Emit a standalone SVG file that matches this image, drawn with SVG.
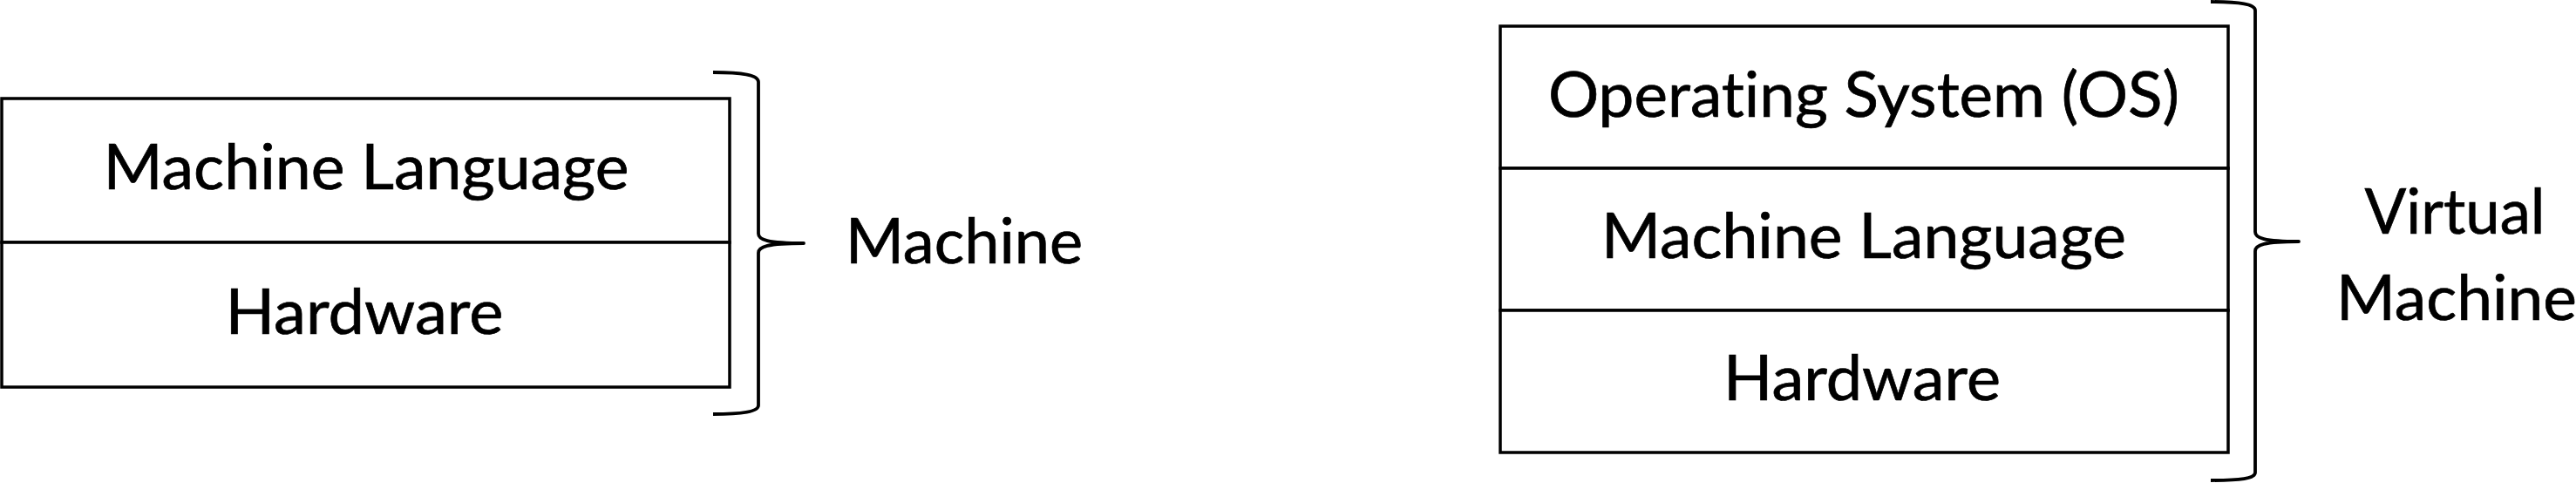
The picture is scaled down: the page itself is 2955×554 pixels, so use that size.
<svg xmlns="http://www.w3.org/2000/svg" width="2955" height="554" viewBox="0 0 2955 554">
<style>
.box{fill:#fff;stroke:#000;stroke-width:3.5}
.brace{fill:none;stroke:#000;stroke-width:3.8;stroke-linejoin:round}
.t{font-family:Lato,"Open Sans","Liberation Sans",sans-serif;font-size:71px;fill:#000;stroke:#000;stroke-width:0.7;text-anchor:middle;font-variant-ligatures:none;font-feature-settings:"liga" 0}
</style>
<rect width="2955" height="554" fill="#fff"/>
<g id="machine-stack">
  <g id="m-lang">
    <rect class="box" x="2" y="113" width="835" height="165"/>
    <text class="t" x="420" y="217" textLength="603" lengthAdjust="spacingAndGlyphs">Machine Language</text>
  </g>
  <g id="m-hw">
    <rect class="box" x="2" y="278" width="835" height="166"/>
    <text class="t" x="418" y="383" textLength="319" lengthAdjust="spacingAndGlyphs">Hardware</text>
  </g>
</g>
<g id="vm-stack">
  <g id="vm-os">
    <rect class="box" x="1721" y="30" width="835" height="163"/>
    <text class="t" x="2138" y="134" textLength="724" lengthAdjust="spacingAndGlyphs">Operating System (OS)</text>
  </g>
  <g id="vm-lang">
    <rect class="box" x="1721" y="193" width="835" height="163"/>
    <text class="t" x="2138" y="296" textLength="602" lengthAdjust="spacingAndGlyphs">Machine Language</text>
  </g>
  <g id="vm-hw">
    <rect class="box" x="1721" y="356" width="835" height="163"/>
    <text class="t" x="2136" y="459" textLength="318" lengthAdjust="spacingAndGlyphs">Hardware</text>
  </g>
</g>
<g id="connectors">
  <path class="brace" d="M818 83 C852 83 870 86 870 94 L870 268 C870 275 880 279 922 279 C880 279 870 283 870 290 L870 465 C870 472 852 475 818 475"/>
  <path class="brace" d="M2536 2 C2570 2 2587 5 2587 12 L2587 266 C2587 273 2597 277 2637 277 C2597 277 2587 281 2587 288 L2587 542 C2587 549 2570 551 2536 551"/>
</g>
<g id="label-machine">
  <text class="t" x="1106" y="302" textLength="272" lengthAdjust="spacingAndGlyphs">Machine</text>
</g>
<g id="label-vm">
  <text class="t" x="2816" y="268" textLength="207" lengthAdjust="spacingAndGlyphs">Virtual</text>
  <text class="t" x="2818" y="367" textLength="276" lengthAdjust="spacingAndGlyphs">Machine</text>
</g>
</svg>
